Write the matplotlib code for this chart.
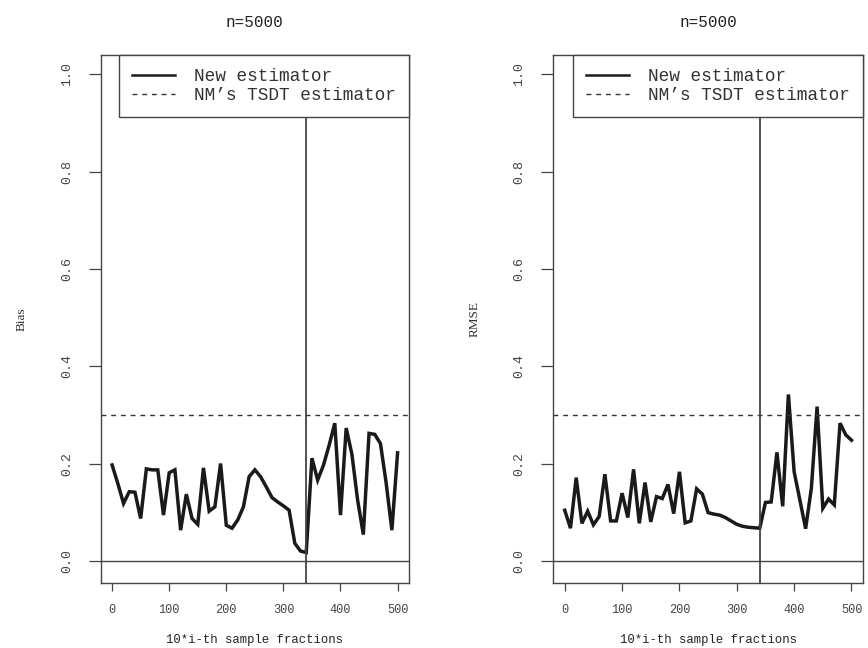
import numpy as np
import matplotlib
matplotlib.use("Agg")
import matplotlib.pyplot as plt

# ---- data ----
x_frac = list(range(0, 501, 10))

bias_new = [0.197, 0.159, 0.118, 0.142, 0.141, 0.087, 0.189, 0.187, 0.187, 0.094,
            0.181, 0.187, 0.063, 0.137, 0.087, 0.075, 0.191, 0.102, 0.111, 0.200,
            0.073, 0.067, 0.084, 0.111, 0.173, 0.187, 0.173, 0.152, 0.130, 0.121,
            0.113, 0.104, 0.036, 0.020, 0.017, 0.211, 0.166, 0.196, 0.237, 0.283,
            0.094, 0.273, 0.219, 0.125, 0.054, 0.262, 0.260, 0.241, 0.160, 0.063,
            0.222]

rmse_new = [0.104, 0.067, 0.171, 0.077, 0.102, 0.074, 0.091, 0.178, 0.082, 0.082,
            0.139, 0.089, 0.188, 0.077, 0.161, 0.080, 0.132, 0.128, 0.157, 0.097,
            0.183, 0.078, 0.082, 0.148, 0.137, 0.099, 0.096, 0.094, 0.089, 0.082,
            0.075, 0.071, 0.069, 0.068, 0.067, 0.120, 0.121, 0.223, 0.112, 0.342,
            0.183, 0.125, 0.066, 0.149, 0.317, 0.108, 0.127, 0.115, 0.283, 0.259,
            0.248]

nm_tsdt = 0.3
vline_at = 340
titles = ["n=5000", "n=5000"]
ylabels = ["Bias", "RMSE"]
xlabel = "10*i-th sample fractions"
legend_labels = ["New estimator", "NM\u2019s TSDT estimator"]
xticks = [0, 100, 200, 300, 400, 500]
yticks = [0.0, 0.2, 0.4, 0.6, 0.8, 1.0]

mono = "Liberation Mono"

fig = plt.figure(figsize=(8.68, 6.48), dpi=100)
positions = [[0.116, 0.1008, 0.3552, 0.8143], [0.6374, 0.1008, 0.3568, 0.8143]]
series = [bias_new, rmse_new]

for pos, ys, title, ylab in zip(positions, series, titles, ylabels):
    ax = fig.add_axes(pos)
    ax.plot(x_frac, ys, color="#1a1a1a", lw=2.5, solid_joinstyle="miter",
            label=legend_labels[0])
    ax.axhline(nm_tsdt, color="#333333", lw=1.0, ls=(0, (3.5, 3.5)),
               label=legend_labels[1])
    ax.axvline(vline_at, color="#444444", lw=1.3)
    ax.axhline(0, color="#444444", lw=1.0)
    ax.set_xlim(-20, 520)
    ax.set_ylim(-0.045, 1.04)
    ax.set_xticks(xticks)
    ax.set_yticks(yticks)
    ax.set_xticklabels([str(t) for t in xticks], fontfamily=mono, fontsize=8.6,
                       color="#2a2a2a")
    ax.set_yticklabels([f"{t:.1f}" for t in yticks], fontfamily=mono, fontsize=9.5,
                       rotation=90, va="center", color="#2a2a2a")
    ax.tick_params(axis="x", length=6, width=0.9, pad=9, colors="#444444")
    ax.tick_params(axis="y", length=9, width=0.9, pad=11, colors="#444444")
    for sp in ax.spines.values():
        sp.set_color("#444444")
        sp.set_linewidth(1.0)
    ax.set_title(title, fontfamily=mono, fontsize=11.5, pad=20, color="#222222")
    ax.set_xlabel(xlabel, fontfamily=mono, fontsize=8.8, labelpad=13,
                  color="#222222")
    ax.set_ylabel(ylab, fontfamily="Liberation Serif", fontsize=9.5, labelpad=24,
                  color="#333333")
    leg = ax.legend(loc="upper right", bbox_to_anchor=(1.0, 1.0),
                    borderaxespad=0, fancybox=False, framealpha=1,
                    edgecolor="#444444", prop={"family": mono, "size": 12.8},
                    handlelength=2.4, handletextpad=1.1, borderpad=0.72,
                    labelspacing=0.15)
    leg.get_frame().set_linewidth(1.0)
    leg.get_lines()[0].set_linewidth(1.8)
    for t in leg.get_texts():
        t.set_color("#333333")

fig.savefig("out.png", dpi=100, facecolor="white")
